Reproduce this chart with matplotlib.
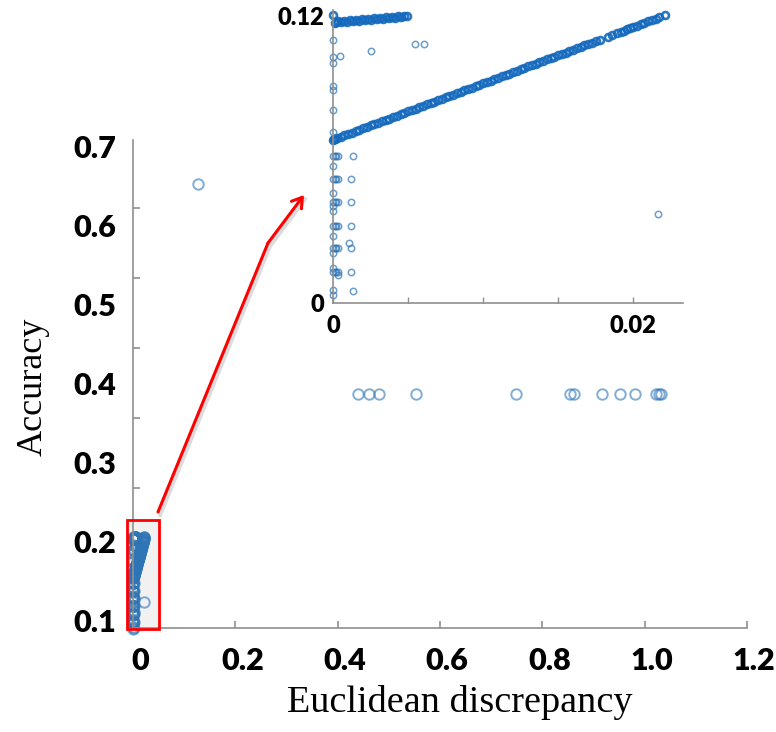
import numpy as np
import matplotlib
matplotlib.use("Agg")
import matplotlib.pyplot as plt
import matplotlib.transforms as mtransforms
from matplotlib.patches import Rectangle

# ---------------- data ----------------
# far points (main panel)
far_disc = [0.439, 0.462, 0.480, 0.554, 0.749, 0.855, 0.862, 0.917, 0.952, 0.981, 1.022, 1.028, 1.032]
far_acc = [0.386, 0.386, 0.386, 0.386, 0.386, 0.386, 0.386, 0.386, 0.386, 0.386, 0.386, 0.386, 0.386]
outlier_disc = [0.127]
outlier_acc = [0.652]

# dense rising band near zero
line_disc = [0.0, 0.00005, 0.0001, 0.00015, 0.00025, 0.0005, 0.00075, 0.001, 0.00125, 0.0015, 0.00175,
             0.002, 0.00225, 0.0025, 0.00275, 0.003, 0.00325, 0.0035, 0.00375, 0.004, 0.00425, 0.0045,
             0.00475, 0.005, 0.00525, 0.0055, 0.00575, 0.006, 0.00625, 0.0065, 0.00675, 0.007, 0.00725,
             0.0075, 0.00775, 0.008, 0.00825, 0.0085, 0.00875, 0.009, 0.00925, 0.0095, 0.00975, 0.01,
             0.01025, 0.0105, 0.01075, 0.011, 0.01125, 0.0115, 0.01175, 0.012, 0.01225, 0.0125, 0.01275,
             0.013, 0.01325, 0.0135, 0.01375, 0.014, 0.01425, 0.0145, 0.01475, 0.015, 0.01525, 0.0155,
             0.01575, 0.016, 0.01625, 0.0165, 0.01675, 0.017, 0.01725, 0.0175, 0.0178, 0.0183, 0.0186,
             0.0189, 0.0192, 0.0194, 0.0196, 0.0198, 0.02, 0.02025, 0.0205, 0.02075, 0.021, 0.02125,
             0.0215, 0.02175, 0.0221]
line_acc = [0.1534, 0.1535, 0.1536, 0.1538, 0.1540, 0.1546, 0.1552, 0.1558, 0.1563, 0.1569, 0.1575,
            0.1581, 0.1587, 0.1593, 0.1599, 0.1605, 0.1610, 0.1616, 0.1622, 0.1628, 0.1634, 0.1640,
            0.1646, 0.1652, 0.1657, 0.1663, 0.1669, 0.1675, 0.1681, 0.1687, 0.1693, 0.1699, 0.1704,
            0.1710, 0.1716, 0.1722, 0.1728, 0.1734, 0.1740, 0.1746, 0.1751, 0.1757, 0.1763, 0.1769,
            0.1775, 0.1781, 0.1787, 0.1793, 0.1798, 0.1804, 0.1810, 0.1816, 0.1822, 0.1828, 0.1834,
            0.1840, 0.1845, 0.1851, 0.1857, 0.1863, 0.1869, 0.1875, 0.1881, 0.1887, 0.1892, 0.1898,
            0.1904, 0.1910, 0.1916, 0.1922, 0.1928, 0.1934, 0.1939, 0.1945, 0.1952, 0.1964, 0.1971,
            0.1978, 0.1985, 0.1990, 0.1995, 0.1999, 0.2004, 0.2010, 0.2016, 0.2022, 0.2028, 0.2033,
            0.2039, 0.2045, 0.2053]

# flat band at the top
top_disc = [0.0, 0.0001, 0.0002, 0.0003, 0.0005, 0.0007, 0.0009, 0.0011, 0.0013, 0.0015, 0.0017, 0.0019,
            0.0021, 0.0023, 0.0025, 0.0027, 0.0029, 0.0031, 0.0033, 0.0035, 0.0037, 0.0039,
            0.0041, 0.0043, 0.0045, 0.0047, 0.0049]
top_acc = [0.2054, 0.2022, 0.2024, 0.2029, 0.2025, 0.2031, 0.2027, 0.2033, 0.2029, 0.2035, 0.2031, 0.2037,
           0.2033, 0.2039, 0.2035, 0.2041, 0.2037, 0.2043, 0.2039, 0.2045, 0.2041, 0.2047,
           0.2044, 0.2049, 0.2046, 0.2051, 0.2052]

# scattered points near zero discrepancy
near_disc = [0.0, 0.0, 0.0, 0.00049, 0.00256, 0.00544, 0.00604, 0.0, 0.0, 0.0, 0.0,
             0.0, 0.0001, 0.0002, 0.0003, 0.00133,
             0.0,
             0.0, 0.0001, 0.0002, 0.0003, 0.00122,
             0.0,
             0.0, 0.0001, 0.0002, 0.0003, 0.00122,
             0.0, 0.0,
             0.0, 0.0001, 0.0002, 0.0003, 0.00122,
             0.0, 0.00104,
             0.0, 0.0001, 0.0002, 0.0003, 0.00122,
             0.0, 0.0,
             0.0, 0.0001, 0.0002, 0.0003, 0.00122,
             0.00033, 0.0, 0.00133, 0.0, 0.02167]
near_acc = [0.1952, 0.1880, 0.1854, 0.1885, 0.1903, 0.1935, 0.1935, 0.1760, 0.1740, 0.1659, 0.1564,
            0.1467, 0.1467, 0.1467, 0.1467, 0.1467,
            0.1422,
            0.1369, 0.1369, 0.1369, 0.1369, 0.1369,
            0.1310,
            0.1273, 0.1273, 0.1273, 0.1273, 0.1273,
            0.1255, 0.1234,
            0.1174, 0.1174, 0.1174, 0.1174, 0.1174,
            0.1129, 0.1101,
            0.1079, 0.1079, 0.1079, 0.1079, 0.1079,
            0.1059, 0.0996,
            0.0980, 0.0980, 0.0980, 0.0980, 0.0980,
            0.0967, 0.0906, 0.0899, 0.0885, 0.1222]

main_xticks = [0, 0.2, 0.4, 0.6, 0.8, 1.0, 1.2]
main_xticklabels = ["0", "0.2", "0.4", "0.6", "0.8", "1.0", "1.2"]
main_yticks = [0.1, 0.2, 0.3, 0.4, 0.5, 0.6, 0.7]
main_yticklabels = ["0.1", "0.2", "0.3", "0.4", "0.5", "0.6", "0.7"]
main_yminor = [0.1785, 0.2671, 0.3557, 0.4443, 0.5329, 0.6215]
inset_xticks = [0, 0.005, 0.01, 0.015, 0.02]
inset_xticklabels = ["0", "", "", "", "0.02"]
inset_yticks = [0.085, 0.205]
inset_yticklabels = ["0", "0.12"]

# ---------------- figure ----------------
W, H = 776, 732
fig = plt.figure(figsize=(W / 100, H / 100), dpi=100)

def px_axes(left, right, top, bottom):
    return fig.add_axes([left / W, (H - bottom) / H, (right - left) / W, (bottom - top) / H])

BLUE = "#2E75B6"
BAND = "#1469BD"
SPINE = "#8f8f8f"
TICKFONT = "Lato"
SERIF = "Liberation Serif"

ax = px_axes(133, 747, 140, 628)
ax.set_xlim(0, 1.2)
ax.set_ylim(0.0899, 0.7076)

mk_main = dict(linestyle="none", marker="o", mfc="none", mec=BLUE, ms=7.5, mew=1.4, alpha=0.6)
ax.plot(far_disc, far_acc, **mk_main)
ax.plot(outlier_disc, outlier_acc, **mk_main)
ax.plot(line_disc, line_acc, clip_on=False, **mk_main)
ax.plot(top_disc, top_acc, clip_on=False, **mk_main)
ax.plot(near_disc, near_acc, clip_on=False, **mk_main)

for s in ["top", "right"]:
    ax.spines[s].set_visible(False)
for s in ["left", "bottom"]:
    ax.spines[s].set_color(SPINE)
    ax.spines[s].set_linewidth(1.2)

ax.set_xticks(main_xticks)
ax.set_xticklabels(main_xticklabels)
ax.set_yticks(main_yticks)
ax.set_yticklabels(main_yticklabels)
ax.set_yticks(main_yminor, minor=True)
ax.tick_params(axis="x", direction="in", length=5, width=1.2, color=SPINE, pad=14)
ax.tick_params(axis="y", which="major", length=0, pad=12)
ax.tick_params(axis="y", which="minor", direction="in", length=5, width=1.2, color=SPINE)
for lab in ax.get_xticklabels() + ax.get_yticklabels():
    lab.set_fontfamily(TICKFONT)
    lab.set_fontweight("heavy")
    lab.set_fontsize(22)
shift = mtransforms.ScaledTranslation(0.07, 0, fig.dpi_scale_trans)
for lab in ax.get_xticklabels():
    lab.set_transform(lab.get_transform() + shift)

# red zoom rectangle
rect = Rectangle((-0.0117, 0.0886), 0.0624, 0.138, transform=ax.transData, clip_on=False,
                 facecolor="#d9d9d9", alpha=0.35, edgecolor="none", zorder=1)
ax.add_patch(rect)
rect2 = Rectangle((-0.0117, 0.0886), 0.0624, 0.138, transform=ax.transData, clip_on=False,
                  facecolor="none", edgecolor="#ff0000", lw=2.0, zorder=5)
ax.add_patch(rect2)

# axis titles
fig.text(33 / W, (H - 387) / H, "Accuracy", rotation=90, ha="center", va="center",
         fontfamily=SERIF, fontsize=26)
fig.text(460 / W, (H - 703) / H, "Euclidean discrepancy", ha="center", va="center",
         fontfamily=SERIF, fontsize=27.5)

# ---------------- inset ----------------
ins = px_axes(333, 683, 10, 303)
ins.patch.set_alpha(0)
ins.set_xlim(0, 0.02333)
ins.set_ylim(0.085, 0.2076)
mk_in = dict(linestyle="none", marker="o", mfc="none", mec=BLUE, ms=4.6, mew=1.1, alpha=0.7)
mk_band = dict(linestyle="none", marker="o", mfc="none", mec=BAND, ms=5.0, mew=1.9, alpha=0.9)
ins.plot(line_disc, line_acc, clip_on=False, **mk_band)
ins.plot(top_disc, top_acc, clip_on=False, **mk_band)
ins.plot(near_disc, near_acc, clip_on=False, **mk_in)
for s in ["top", "right"]:
    ins.spines[s].set_visible(False)
for s in ["left", "bottom"]:
    ins.spines[s].set_color(SPINE)
    ins.spines[s].set_linewidth(1.2)
ins.set_xticks(inset_xticks)
ins.set_xticklabels(inset_xticklabels)
ins.set_yticks(inset_yticks)
ins.set_yticklabels(inset_yticklabels)
ins.tick_params(axis="x", direction="in", length=4, width=1.0, color=SPINE, pad=9)
ins.tick_params(axis="y", direction="in", length=0, pad=6)
for lab in ins.get_xticklabels() + ins.get_yticklabels():
    lab.set_fontfamily(TICKFONT)
    lab.set_fontweight("heavy")
    lab.set_fontsize(17)

# ---------------- arrow overlay ----------------
ov = fig.add_axes([0, 0, 1, 1])
ov.set_xlim(0, W)
ov.set_ylim(H, 0)
ov.axis("off")
ov.patch.set_alpha(0)
# soft shadow
ov.plot([160, 270, 305], [515, 246, 199], color="#999999", lw=3, alpha=0.35, solid_capstyle="round")
ov.plot([158, 268], [512, 243], color="#ff0000", lw=2.2, solid_capstyle="round")
ov.annotate("", xy=(304, 195), xytext=(268, 243),
            arrowprops=dict(arrowstyle="->,head_length=0.7,head_width=0.45", color="#ff0000",
                            lw=2.2, shrinkA=0, shrinkB=0))

fig.savefig("out.png", dpi=100)
